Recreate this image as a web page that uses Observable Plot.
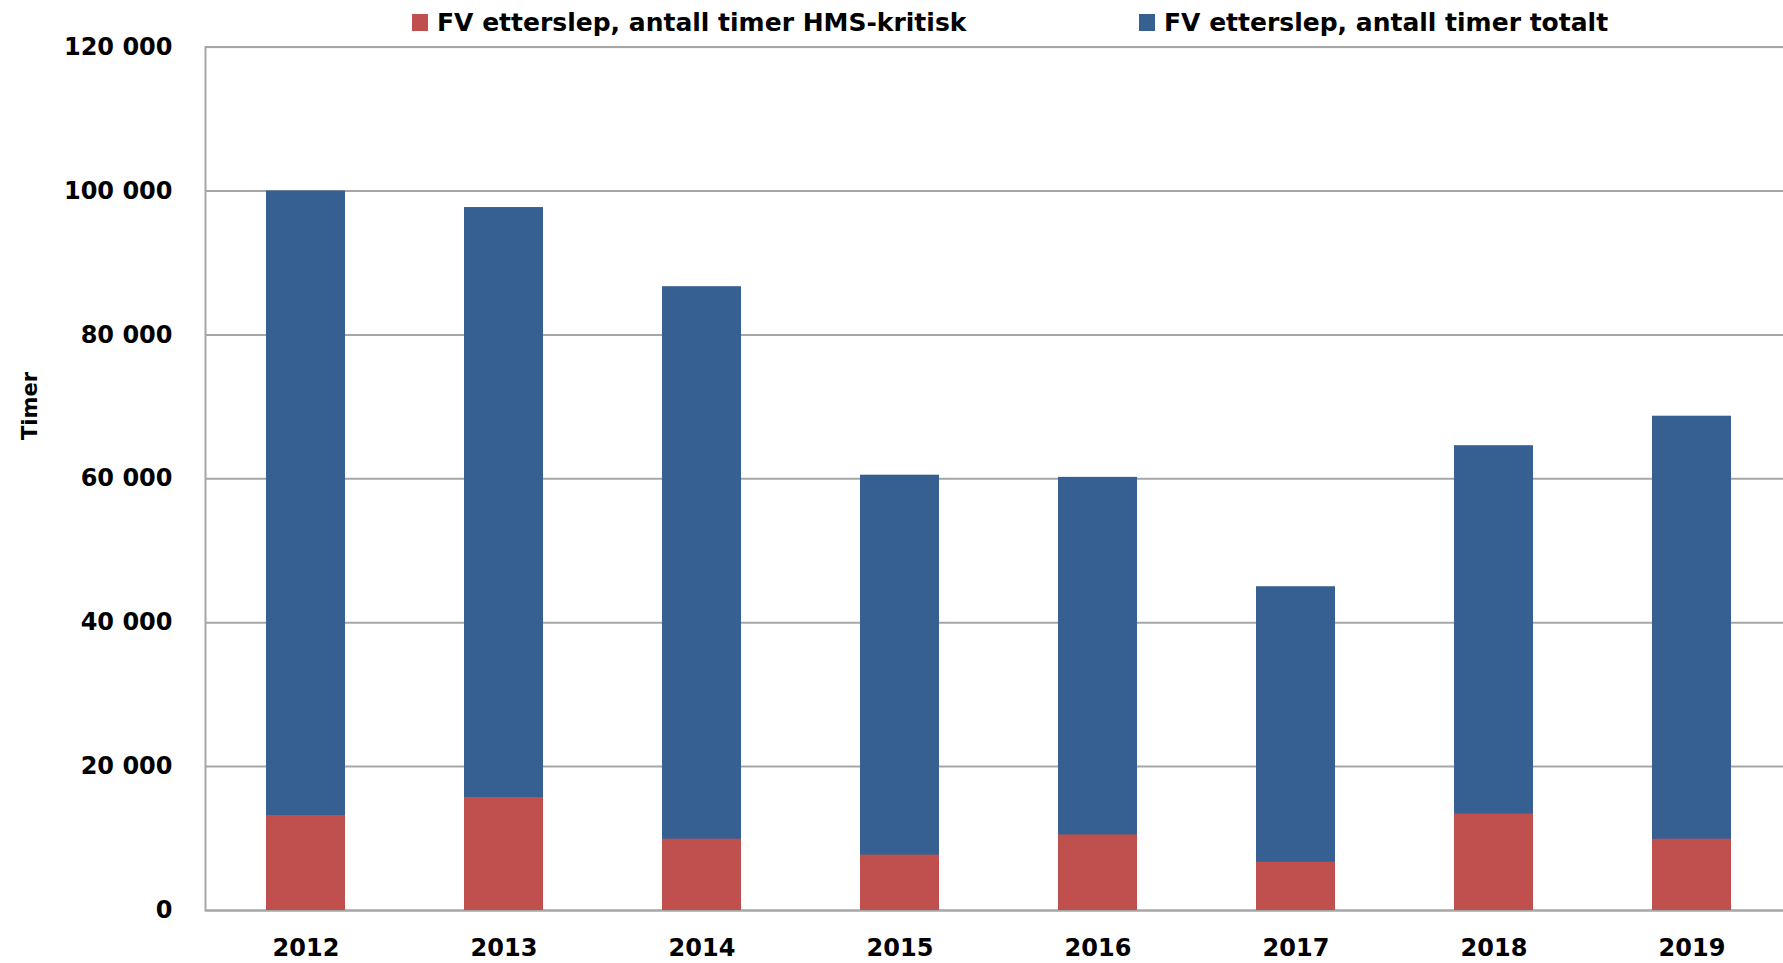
<!DOCTYPE html>
<html>
<head>
<meta charset="utf-8">
<script src="https://cdn.jsdelivr.net/npm/d3@7"></script>
<script src="https://cdn.jsdelivr.net/npm/@observablehq/plot@0.6"></script>
<style>
  html, body { margin: 0; padding: 0; background: #fff; overflow: hidden; }
  #wrap { position: relative; width: 1783px; height: 963px; overflow: hidden; font-family: "DejaVu Sans", sans-serif; }
  #legend { position: relative; height: 32px; }
  .item { position: absolute; top: 6px; height: 32px; display: flex; align-items: center; font-weight: bold; font-size: 25px; color: #000; white-space: nowrap; }
  .sw { width: 16px; height: 17px; margin-right: 9px; }
  #ylabel { position: absolute; left: 30px; top: 406px; transform: translate(-50%, -50%) rotate(-90deg); font-size: 21px; font-weight: bold; color: #000; white-space: nowrap; }
  #chart svg { display: block; }
</style>
</head>
<body>
<div id="wrap">
  <div id="legend"></div>
  <div id="chart"></div>
  <div id="ylabel"></div>
</div>
<script>
// ---- data ----
const years = ["2012", "2013", "2014", "2015", "2016", "2017", "2018", "2019"];
const hmsKritisk = [13200, 15700, 9900, 7700, 10500, 6700, 13400, 9900];
const totalt = [100000, 97700, 86700, 60500, 60200, 45000, 64600, 68700];
const yTicks = [0, 20000, 40000, 60000, 80000, 100000, 120000];
const seriesNames = ["FV etterslep, antall timer HMS-kritisk", "FV etterslep, antall timer totalt"];
const seriesColors = ["#C0504D", "#376092"];
const yLabel = "Timer";

// ---- legend ----
const legend = document.getElementById("legend");
const legendLeft = [412, 1139];
seriesNames.forEach((name, i) => {
  const it = document.createElement("div");
  it.className = "item";
  it.style.left = legendLeft[i] + "px";
  const sw = document.createElement("span");
  sw.className = "sw";
  sw.style.background = seriesColors[i];
  it.appendChild(sw);
  const t = document.createElement("span");
  t.textContent = name;
  it.appendChild(t);
  legend.appendChild(it);
});
document.getElementById("ylabel").textContent = yLabel;

// ---- chart ----
const rows = years.map((year, i) => ({year, hms: hmsKritisk[i], total: totalt[i]}));
const fmt = d => d3.format(",")(d).replace(/,/g, " ");

const chart = Plot.plot({
  width: 1783,
  height: 931,
  marginLeft: 205,
  marginRight: -10,
  marginTop: 14.6,
  marginBottom: 53,
  style: {fontFamily: "DejaVu Sans, sans-serif", fontSize: "24px", fontWeight: "bold", color: "#000", background: "#fff"},
  x: {domain: years, paddingInner: 0.6, paddingOuter: 0.3, label: null, tickSize: 0, tickPadding: 28},
  y: {domain: [0, 120000], ticks: yTicks, tickFormat: fmt, label: null, tickSize: 0, tickPadding: 33},
  marks: [
    Plot.ruleY(yTicks, {stroke: "#a6a6a6", strokeWidth: 2}),
    Plot.frame({stroke: "#a6a6a6", strokeWidth: 2}),
    Plot.barY(rows, {x: "year", y: "total", fill: seriesColors[1]}),
    Plot.barY(rows, {x: "year", y: "hms", fill: seriesColors[0]})
  ]
});
document.getElementById("chart").appendChild(chart);
</script>
</body>
</html>
